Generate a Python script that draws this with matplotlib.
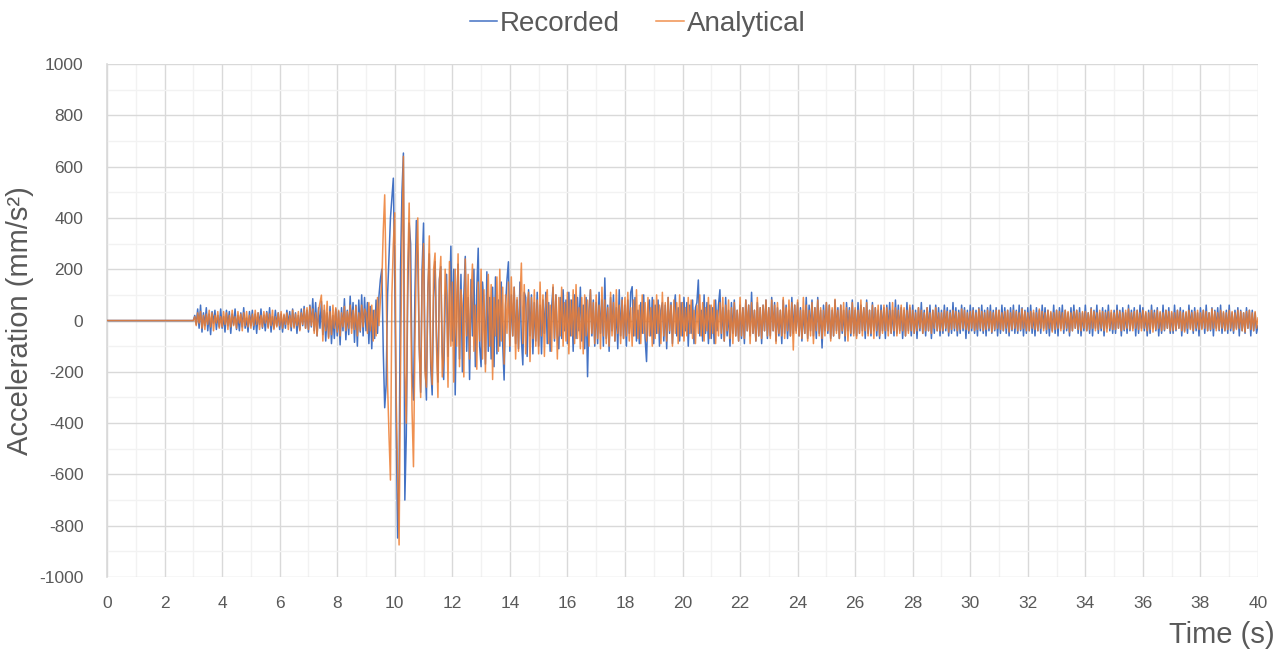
import numpy as np
import matplotlib.pyplot as plt
from matplotlib.ticker import MultipleLocator

plt.rcParams['font.family'] = ['Liberation Sans Narrow', 'Liberation Sans', 'DejaVu Sans']
plt.rcParams['axes.unicode_minus'] = False

# acceleration samples (mm/s^2), every 0.05 s starting at t = 3.0 s
# (the record is flat zero from 0 to 3 s)
t_start = 3.0
dt = 0.05

recorded = [
    0, 20, -15, 45, -30, 60, -45, 30, -20, 50, -40, 25, -55, 35, -10, 40, -35, 20, -25, 45,
    -30, 15, -45, 40, -20, 35, -50, 25, -15, 45, -35, 20, -40, 30, -25, 50, -30, 10, -45, 35,
    -20, 40, -35, 25, -50, 30, -15, 45, -30, 20, -40, 35, -25, 50, -45, 15, -30, 40, -20, 30,
    -35, 25, -45, 20, -30, 40, -15, 35, -40, 45, -25, 30, -50, 20, -35, 45, -20, 55, -30, 40,
    -45, 60, -25, 85, -40, 70, -60, 50, -30, 75, -55, 40, -80, 30, -65, 55, -90, 20, -70, 45,
    -60, 35, -95, 50, -40, 85, -75, 40, -55, 95, -30, 70, -85, 60, -100, 80, -45, 100, -60, 90,
    -40, 70, -90, 55, -110, 40, -70, 80, -50, 95, 160, 200, -120, -340, -250, 100, 250, 400, 480, 555,
    150, -400, -848, -600, 200, 500, 653, -700, -450, 100, 380, 300, -200, -310, 100, 390, 250, -100, -280, 200,
    380, -150, -310, 120, 260, -180, -290, 90, 230, -60, -240, 160, 210, -120, -230, 80, 180, -140, 60, 290,
    -80, 200, -290, 50, 220, -150, 180, -200, 100, 250, -120, 90, -230, 160, -60, 200, -180, 120, 282, -100,
    -180, 150, 60, -170, 190, -120, 90, -150, 130, -180, 170, -130, 80, -100, 150, -90, -232, 60, 160, 229,
    -120, 100, -60, 130, -90, 80, -110, 150, -70, -173, 110, 90, -140, 120, -60, 100, -130, 70, -80, 110,
    -100, 60, -130, 80, -50, 110, -90, 70, -120, 50, 130, -80, 100, -60, -110, 90, -70, 120, -40, 80,
    -90, 110, -60, 80, -120, 100, -70, 90, -40, 130, -80, 60, -110, 90, -219, 40, 120, -60, 80, -100,
    70, -90, 110, -50, 80, -100, 166, -70, 60, -120, 90, -40, 100, -80, 50, -110, 120, -60, 90, -70,
    60, -100, 80, -50, 110, 132, -60, 90, -80, 40, -90, 70, -50, 100, -70, -160, 50, 80, -60, 90,
    -90, 60, -50, 80, -100, 40, 70, -80, 60, -110, 90, -50, 70, -90, 40, 100, -60, 50, -80, 70,
    -60, 90, -40, 70, -100, 60, -50, 80, -90, 50, 70, 158, -60, 40, -80, 100, -50, 70, -90, 60,
    -70, 50, -90, 80, -40, 60, 120, -70, 50, -80, 90, -60, 40, -100, 70, -50, 80, -60, 40, -80,
    60, -70, 50, -90, 80, -40, 60, -60, 110, -50, 40, -80, 70, -60, 50, -90, 60, -40, 80, -70,
    50, -60, 90, -40, 70, -80, 50, -60, 40, -90, 80, -50, 60, -70, 40, -60, 90, -50, 60, -40,
    70, -60, 50, -80, 40, -50, 90, -70, 60, -40, 80, -60, 50, -70, 90, -50, 40, -107, 60, -40,
    70, -50, 60, -70, 40, -60, 80, -40, 50, -70, 60, -50, 40, -80, 70, -40, 50, -60, 80, -50,
    40, -60, 70, -50, 60, -40, 50, -70, 80, -50, 40, -60, 70, -40, 50, -60, 40, -70, 60, -40,
    50, -70, 60, -40, 70, -50, 40, -60, 80, -50, 60, -40, 50, -70, 40, -60, 70, -40, 50, -60,
    60, -50, 40, -70, 50, -40, 70, -50, 40, -60, 50, -40, 60, -70, 40, -50, 60, -40, 50, -60,
    40, -50, 60, -40, 50, -60, 40, -50, 70, -40, 50, -60, 40, -50, 60, -40, 50, -70, 40, -50,
    60, -40, 50, -50, 40, -60, 50, -40, 60, -50, 40, -60, 50, -40, 60, -50, 40, -40, 50, -60,
    40, -50, 60, -40, 50, -50, 40, -60, 50, -40, 60, -50, 40, -50, 60, -40, 50, -60, 40, -50,
    50, -40, 60, -50, 30, -60, 50, -40, 40, -50, 60, -30, 50, -50, 40, -60, 30, -40, 60, -50,
    40, -60, 50, -30, 60, -50, 40, -40, 30, -60, 50, -40, 60, -30, 40, -50, 50, -60, 30, -40,
    60, -40, 30, -50, 50, -60, 40, -30, 60, -50, 30, -40, 50, -60, 40, -30, 60, -40, 30, -50,
    40, -50, 60, -30, 40, -60, 50, -40, 30, -50, 60, -40, 40, -30, 50, -60, 40, -50, 60, -30,
    50, -40, 30, -60, 40, -50, 60, -30, 40, -40, 50, -60, 30, -50, 60, -40, 40, -30, 50, -50,
    30, -50, 60, -40, 40, -30, 50, -60, 40, -40, 30, -50, 60, -30, 40, -50, 50, -40, 30, -60,
    50, -30, 40, -50, 60, -40, 30, -40, 50, -60, 40, -30, 50, -40, 60, -50, 30, -40, 40, -50,
    60, -40, 30, -50, 40, -30, 50, -60, 40, -40, 30, -50, 50, -30, 40, -60, 40, -40, 30, -50,
    -20,
]

analytical = [
    0, 15, -20, 30, -10, 35, -30, 20, -35, 25, -15, 40, -25, 30, -40, 20, -10, 35, -30, 15,
    -25, 35, -15, 30, -35, 20, -25, 40, -20, 15, -30, 35, -10, 25, -40, 30, -20, 35, -25, 20,
    -30, 25, -20, 40, -15, 30, -35, 20, -25, 35, -10, 30, -30, 25, -20, 40, -35, 15, -25, 30,
    -20, 35, -30, 25, -15, 30, -35, 20, -25, 40, -30, 25, -20, 35, -40, 30, -15, 45, -30, 50,
    -35, 55, -20, 45, -50, 30, -60, 40, 70, 99, -80, 60, -40, 75, -70, 35, -55, 60, -30, 50,
    -45, 40, -60, 30, -25, 55, -40, 35, -30, 60, -50, 40, -35, 55, -60, 30, -40, 60, -25, 45,
    30, -50, 70, -40, 60, -80, 40, -60, 90, -20, 80, 150, 350, 490, 150, -250, -450, -622, 100, 300,
    420, -300, -600, -875, -200, 300, 640, -200, -400, 200, 458, 100, -350, -570, -100, 250, 400, -100, -300, 150,
    300, -200, -260, 100, 330, -150, -250, 200, 263, -100, -300, 150, 250, -220, -150, 200, 100, -260, 230, -100,
    150, -240, 200, -100, 260, -180, 120, 50, -220, 240, -60, 180, -150, 100, 220, -120, 60, -190, 150, -80,
    200, -150, 120, -200, 60, 180, -100, 140, -230, 90, -60, 170, -120, 200, -80, 130, -170, 100, -50, 150,
    -100, 170, -60, 130, -150, 90, -120, 80, 224, -90, 140, -130, 60, 110, -160, 90, -70, 120, -100, 80,
    -130, 150, -60, 100, -140, 80, 120, -90, 60, -120, 140, -70, 100, -150, 90, -60, 130, -100, 70, -80,
    110, -130, 80, -60, 120, -90, 140, -70, 50, -110, 90, -130, 100, -60, 80, -100, 120, -50, 70, -90,
    100, -70, 60, -110, 130, -60, 80, -90, 50, -100, 110, -60, 70, -80, 120, -50, 60, -90, 80, -70,
    90, -60, 110, -80, 50, -100, 80, -60, 120, -70, 60, -90, 100, -50, 70, -80, 90, -60, 50, -100,
    80, -70, 100, -50, 60, -90, 110, -60, 70, -80, 90, -40, 60, -100, 80, -50, 70, -90, 100, -60,
    70, -80, 50, -60, 90, -50, 80, -70, 40, -90, 60, -50, 100, -60, 70, -80, 50, -40, 90, -70,
    60, -50, 80, -90, 40, -60, 70, -50, 90, -80, 60, -40, 80, -70, 50, -90, 70, -60, 40, -80,
    90, -60, 50, -70, 80, -40, 60, -90, 70, -50, 40, -80, 90, -60, 50, -70, 60, -40, 80, -60,
    50, -70, 80, -40, 60, -90, 70, -50, 40, -60, 90, -70, 50, -40, 80, -60, 70, -115, 60, -50,
    80, -60, 40, -70, 90, -50, 60, -80, 40, -60, 70, -90, 50, -40, 80, -60, 50, -70, 40, -60,
    70, -40, 60, -80, 50, -60, 83, -50, 40, -70, 60, -40, 70, -60, 50, -80, 40, -50, 70, -60,
    50, -70, 40, -50, 80, -60, 50, -40, 70, -60, 40, -50, 60, -70, 50, -40, 60, -60, 40, -50,
    60, -40, 50, -60, 40, -50, 70, -40, 50, -60, 40, -50, 60, -40, 50, -60, 40, -50, 60, -40,
    40, -50, 30, -40, 50, -30, 40, -50, 30, -40, 50, -40, 30, -50, 40, -30, 50, -40, 30, -40,
    30, -40, 40, -30, 35, -45, 30, -35, 40, -30, 35, -40, 30, -35, 45, -30, 40, -35, 30, -40,
    35, -30, 40, -40, 30, -35, 45, -30, 35, -40, 30, -35, 40, -30, 35, -45, 30, -35, 40, -30,
    40, -35, 30, -40, 35, -30, 40, -45, 30, -35, 40, -30, 35, -40, 30, -35, 45, -30, 35, -40,
    30, -40, 35, -30, 40, -35, 30, -40, 45, -30, 35, -40, 30, -35, 40, -30, 35, -45, 30, -35,
    40, -30, 35, -40, 30, -35, 40, -30, 35, -45, 30, -40, 35, -30, 40, -35, 30, -40, 35, -30,
    35, -40, 30, -35, 45, -30, 35, -40, 30, -35, 40, -30, 35, -40, 30, -45, 35, -30, 40, -35,
    30, -35, 40, -30, 35, -40, 30, -35, 40, -30, 45, -35, 30, -40, 35, -30, 40, -35, 30, -40,
    40, -30, 35, -40, 30, -35, 40, -45, 30, -35, 40, -30, 35, -40, 30, -35, 40, -30, 35, -40,
    35, -40, 30, -35, 40, -30, 35, -40, 30, -45, 35, -30, 40, -35, 30, -40, 35, -30, 40, -35,
    30, -35, 40, -30, 35, -40, 30, -35, 45, -30, 35, -40, 30, -35, 40, -30, 35, -40, 30, -35,
    40, -30, 35, -40, 30, -35, 40, -30, 35, -40, 30, -45, 35, -30, 40, -35, 30, -40, 35, -30,
    10,
]

x_ticks = list(range(0, 41, 2))
y_ticks = list(range(-1000, 1001, 200))

blue = '#4472C4'
orange = '#ED7D31'
grey_text = '#595959'


def series(vals):
    t = t_start + dt * np.arange(len(vals))
    # flat lead-in before the first arrival
    return np.concatenate([[0.0], t]), np.concatenate([[0.0], vals])


t_rec, a_rec = series(recorded)
t_ana, a_ana = series(analytical)

fig = plt.figure(figsize=(12.88, 6.52), dpi=100)
ax = fig.add_axes([0.0831, 0.115, 0.8936, 0.7868])

ax.plot(t_rec, a_rec, color=blue, lw=1.1, label='Recorded', zorder=3)
ax.plot(t_ana, a_ana, color=orange, lw=1.1, alpha=0.85, label='Analytical', zorder=4)
ax.axhline(0, color='#BFBFBF', lw=1.0, zorder=2)

ax.set_xlim(0, 40)
ax.set_ylim(-1000, 1000)
ax.set_xticks(x_ticks)
ax.set_yticks(y_ticks)
ax.xaxis.set_minor_locator(MultipleLocator(1))
ax.yaxis.set_minor_locator(MultipleLocator(100))
ax.grid(which='major', color='#D9D9D9', lw=1.0, zorder=0)
ax.grid(which='minor', color='#F2F2F2', lw=1.0, zorder=0)
ax.set_axisbelow(True)
ax.tick_params(which='both', length=0, labelsize=12.5, colors=grey_text)
ax.tick_params(axis='x', pad=14)
ax.tick_params(axis='y', pad=17)

for side in ['top', 'right', 'bottom']:
    ax.spines[side].set_visible(False)
ax.spines['left'].set_color('#D9D9D9')
ax.spines['left'].set_linewidth(1.2)

ax.set_ylabel('Acceleration (mm/s\u00b2)', fontsize=21, color=grey_text, labelpad=8)
ax.yaxis.set_label_coords(-0.0635, 0.5)
fig.text(0.99, 0.005, 'Time (s)', fontsize=21, color=grey_text, ha='right', va='bottom')

fig.legend(loc='upper center', bbox_to_anchor=(0.495, 1.022), ncol=2, frameon=False,
           fontsize=20, handlelength=1.0, handletextpad=0.1, columnspacing=1.3,
           labelcolor=grey_text)

fig.savefig('out.png', dpi=100)
